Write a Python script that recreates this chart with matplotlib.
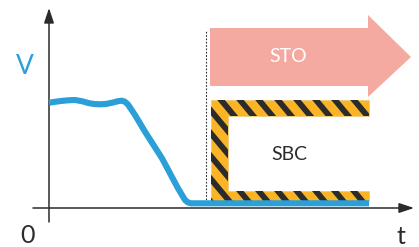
import numpy as np
import matplotlib
matplotlib.use("Agg")
import matplotlib.pyplot as plt
from matplotlib.patches import Polygon

# ---- data (time vs. voltage, arbitrary units) ----
time = [0, 6, 12, 19, 26, 33, 40, 46, 52, 58, 64, 69, 73, 76, 79, 82,
        86, 96, 113, 129, 133, 136, 139, 142, 320]
voltage = [105.3, 106.2, 107.0, 107.7, 108.0, 106.8, 104.8, 103.9, 103.7,
           104.2, 105.5, 106.8, 107.3, 106.2, 103.5, 99.0, 93.0, 76.3, 49.7,
           19.7, 13.0, 8.0, 5.5, 4.7, 4.7]
axis_labels = ["V", "t", "0"]
block_labels = ["STO", "SBC"]
sto_start, sto_end = 161, 319
sbc_start, sbc_end = 162, 320

BLUE = "#2A9FD8"
SALMON = "#F4AAA0"
YELLOW = "#FBB426"
DARK = "#2B2B2B"

plt.rcParams['font.family'] = ['Lato', 'DejaVu Sans']

fig = plt.figure(figsize=(4.19, 2.47), dpi=100)
ax = fig.add_axes([0, 0, 1, 1])
ax.set_xlim(-49, 370)
ax.set_ylim(-39, 208)
ax.axis("off")

# axes arrows
ax.annotate("", xy=(0, 200), xytext=(0, -14),
            arrowprops=dict(arrowstyle="-|>,head_length=0.9,head_width=0.3",
                            color=DARK, lw=1.1, shrinkA=0, shrinkB=0))
ax.annotate("", xy=(365, 0), xytext=(-16, 0),
            arrowprops=dict(arrowstyle="-|>,head_length=0.9,head_width=0.3",
                            color=DARK, lw=1.1, shrinkA=0, shrinkB=0))

# STO arrow
sto_lo, sto_hi = 122, 180
head_lo, head_hi, tip = 111, 193, 362
sto = Polygon([(sto_start, sto_lo), (sto_end, sto_lo), (sto_end, head_lo),
               (tip, (sto_lo + sto_hi) / 2), (sto_end, head_hi),
               (sto_end, sto_hi), (sto_start, sto_hi)],
              closed=True, facecolor=SALMON, edgecolor="none", zorder=2)
ax.add_patch(sto)
ax.text((sto_start + sto_end) / 2 - 1, 151, block_labels[0], color="white",
        fontsize=14, ha="center", va="center", zorder=3)

# SBC bracket
top_hi, top_lo = 108, 92
bot_hi, bot_lo = 17, 7
inner = 179
bracket = Polygon([(sbc_start, top_hi), (sbc_end, top_hi), (sbc_end, top_lo),
                   (inner, top_lo), (inner, bot_hi), (sbc_end, bot_hi),
                   (sbc_end, bot_lo), (sbc_start, bot_lo)],
                  closed=True, facecolor=YELLOW, edgecolor="#EFCB80", lw=0.6, zorder=2)
ax.add_patch(bracket)
slope = 1.2
for c in np.arange(172 - 19 * 6, sbc_end + 30, 19):
    tt = np.array([c - 10, c + 140])
    vv = top_hi - slope * (tt - c)
    ln, = ax.plot(tt, vv, color=DARK, lw=4.2, solid_capstyle="butt", zorder=2.5)
    ln.set_clip_path(bracket)
ax.text(240, 53, block_labels[1], color=DARK, fontsize=14,
        ha="center", va="center", zorder=3)

# dotted marker line
ax.plot([157, 157], [5, 178], color=DARK, lw=0.8, ls=(0, (1.5, 1.5)), zorder=1)

# voltage curve
ax.plot(time, voltage, color=BLUE, lw=4.4, solid_joinstyle="round",
        solid_capstyle="butt", zorder=4)

# labels
ax.text(-24, 142, axis_labels[0], color=BLUE, fontsize=19, ha="center", va="center")
ax.text(352, -28, axis_labels[1], color=DARK, fontsize=18, ha="center", va="center")
ax.text(-22, -27, axis_labels[2], color=DARK, fontsize=18, ha="center", va="center")

fig.savefig("out.png", dpi=100)
